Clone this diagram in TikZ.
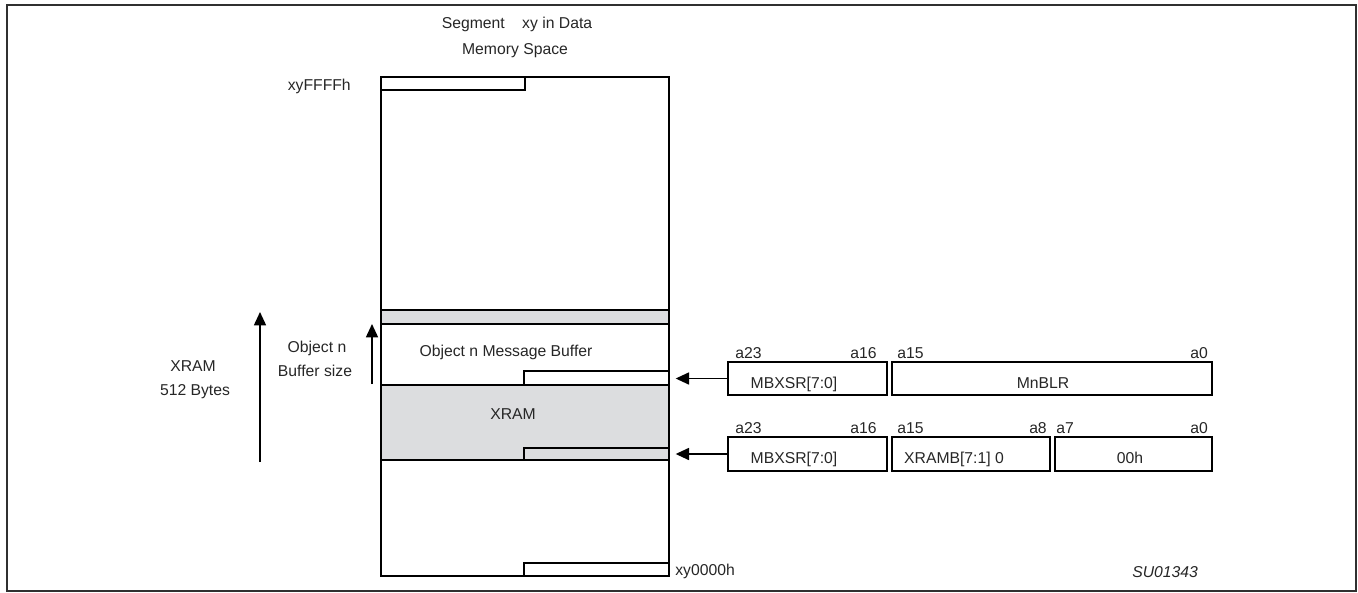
\documentclass[tikz,border=0pt]{standalone}
\usepackage{fontspec}
\setmainfont{Liberation Sans}
\usetikzlibrary{arrows.meta}
\definecolor{memgray}{HTML}{DCDDDF}
\definecolor{framegray}{HTML}{303030}
\newcommand{\mkbox}[6]{\node[#6, anchor=north west, minimum width={(#4-#2)*0.75pt}, minimum height={(#5-#3)*0.75pt}] (#1) at (#2,#3) {};}
\begin{document}
\begin{tikzpicture}[x=0.75pt,y=-0.75pt,
  font=\fontsize{11.8}{14}\selectfont,
  membox/.style={draw=black, line width=1.4pt, inner sep=0pt, outer sep=0pt, rectangle},
  grayfill/.style={membox, fill=memgray},
  regbox/.style={membox, line width=1.3pt},
  txt/.style={anchor=base, inner sep=0pt, text=black!85},
  arr/.style={line width=1.2pt, -{Triangle[length=10pt,width=9pt]}},
  frameline/.style={draw=framegray, line width=1.6pt}]
\useasboundingbox (0,0) rectangle (1358,592);
\draw[frameline] (7,5) rectangle (1356,591);
% memory column
\mkbox{mem}{381}{77}{669}{576}{membox}
\mkbox{gb}{381}{310}{669}{324}{grayfill}
\mkbox{buf}{381}{324}{669}{385}{membox}
\mkbox{xr}{381}{385}{669}{460}{grayfill}
\mkbox{topb}{381}{77}{525}{90}{membox}
\mkbox{bufb}{524}{371}{669}{385}{membox}
\mkbox{xrb}{524}{448}{669}{460}{grayfill}
\mkbox{botb}{524}{563}{669}{576}{membox}
% titles
\node[txt] (t1) at (517,29) {Segment\ \ \ \ xy in Data};
\node[txt] (t2) at (515,55) {Memory Space};
\node[txt, anchor=base east] (ff) at (351,90) {xyFFFFh};
\node[txt, anchor=base west] (zz) at (675,575) {xy0000h};
\node[txt] (objbuf) at (506,356) {Object n Message Buffer};
\node[txt] (xram) at (513,419) {XRAM};
% left labels and arrows
\node[txt] (l1) at (193,371) {XRAM};
\node[txt] (l2) at (195,395) {512 Bytes};
\node[txt] (l3) at (317,352) {Object n};
\node[txt] (l4) at (315,376) {Buffer size};
\coordinate (bigS) at (260,462);
\coordinate (bigE) at (260,312);
\coordinate (smS) at (372,384);
\coordinate (smE) at (372,324);
\draw[arr] (bigS) -- (bigE);
\draw[arr] (smS) -- (smE);
% registers row 1
\mkbox{r1a}{728}{362}{887}{395}{regbox}
\mkbox{r1b}{892}{362}{1212}{395}{regbox}
\node[txt] (r1at) at (794,388) {MBXSR[7:0]};
\node[txt] (r1bt) at (1043,388) {MnBLR};
\node[txt, anchor=base west] (a23a) at (735,358) {a23};
\node[txt, anchor=base east] (a16a) at (877,358) {a16};
\node[txt, anchor=base west] (a15a) at (897,358) {a15};
\node[txt, anchor=base east] (a0a) at (1208,358) {a0};
% registers row 2
\mkbox{r2a}{728}{437}{887}{471}{regbox}
\mkbox{r2b}{892}{437}{1050}{471}{regbox}
\mkbox{r2c}{1055}{437}{1212}{471}{regbox}
\node[txt] (r2at) at (794,463) {MBXSR[7:0]};
\node[txt] (r2bt) at (954,463) {XRAMB[7:1] 0};
\node[txt] (r2ct) at (1130,463) {00h};
\node[txt, anchor=base west] (a23b) at (735,433) {a23};
\node[txt, anchor=base east] (a16b) at (877,433) {a16};
\node[txt, anchor=base west] (a15b) at (897,433) {a15};
\node[txt, anchor=base east] (a8b) at (1047,433) {a8};
\node[txt, anchor=base west] (a7b) at (1056,433) {a7};
\node[txt, anchor=base east] (a0b) at (1208,433) {a0};
% pointer arrows
\draw[arr, shorten >=5pt] (r1a.west) -- (r1a.west -| bufb.east);
\draw[arr, shorten >=5pt] (r2a.west) -- (r2a.west -| xrb.east);
\node[txt, anchor=base west, font=\fontsize{11.8}{14}\selectfont\itshape] (su) at (1132,577) {SU01343};
\end{tikzpicture}
\end{document}
